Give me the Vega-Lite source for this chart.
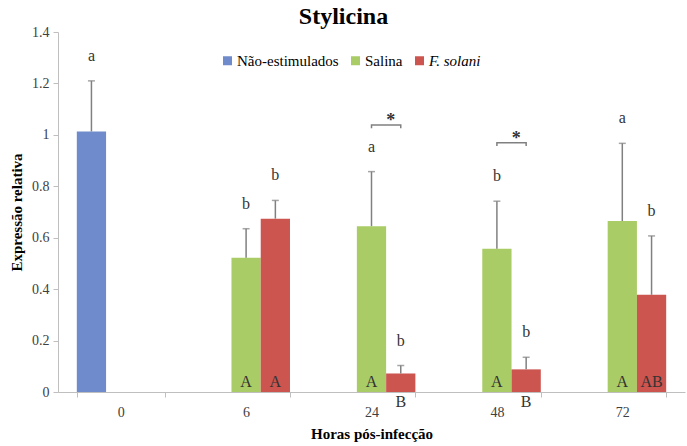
{
  "$schema": "https://vega.github.io/schema/vega-lite/v6.json",
  "width": 627,
  "height": 360,
  "autosize": {"type": "none"},
  "padding": {"left": 58, "top": 32, "right": 2, "bottom": 54},
  "background": "white",
  "config": {"view": {"stroke": null}, "font": "Liberation Serif, serif"},
  "title": {"text": "Stylicina", "fontSize": 24, "fontWeight": "bold", "font": "Liberation Serif, serif", "anchor": "middle", "dx": -28, "offset": -4, "color": "#000000"},
  "datasets": {
    "barras": [
      {"hora": "0", "serie": "Não-estimulados", "media": 1.013, "sup": 1.21, "letra_sup": "a", "letra_inf": ""},
      {"hora": "6", "serie": "Salina", "media": 0.522, "sup": 0.635, "letra_sup": "b", "letra_inf": "A"},
      {"hora": "6", "serie": "F. solani", "media": 0.674, "sup": 0.745, "letra_sup": "b", "letra_inf": "A"},
      {"hora": "24", "serie": "Salina", "media": 0.645, "sup": 0.857, "letra_sup": "a", "letra_inf": "A"},
      {"hora": "24", "serie": "F. solani", "media": 0.072, "sup": 0.103, "letra_sup": "b", "letra_inf": "B"},
      {"hora": "48", "serie": "Salina", "media": 0.557, "sup": 0.742, "letra_sup": "b", "letra_inf": "A"},
      {"hora": "48", "serie": "F. solani", "media": 0.088, "sup": 0.135, "letra_sup": "b", "letra_inf": "B"},
      {"hora": "72", "serie": "Salina", "media": 0.665, "sup": 0.967, "letra_sup": "a", "letra_inf": "A"},
      {"hora": "72", "serie": "F. solani", "media": 0.378, "sup": 0.607, "letra_sup": "b", "letra_inf": "AB"}
    ],
    "sig": [
      {"hora": "24", "serie": "Salina", "y": 1.026, "ordem": 1},
      {"hora": "24", "serie": "Salina", "y": 1.038, "ordem": 2},
      {"hora": "24", "serie": "F. solani", "y": 1.038, "ordem": 3},
      {"hora": "24", "serie": "F. solani", "y": 1.026, "ordem": 4},
      {"hora": "48", "serie": "Salina", "y": 0.957, "ordem": 1},
      {"hora": "48", "serie": "Salina", "y": 0.969, "ordem": 2},
      {"hora": "48", "serie": "F. solani", "y": 0.969, "ordem": 3},
      {"hora": "48", "serie": "F. solani", "y": 0.957, "ordem": 4}
    ]
  },
  "encoding": {
    "x": {
      "field": "hora", "type": "ordinal", "sort": ["0", "6", "24", "48", "72"],
      "scale": {"domain": ["0", "6", "24", "48", "72"], "paddingInner": 0.3, "paddingOuter": 0.15},
      "axis": {"title": "Horas pós-infecção", "titleFont": "Liberation Serif, serif", "titleFontSize": 15, "titleFontWeight": "bold", "titleColor": "#000000", "titlePadding": 7,
               "labelAngle": 0, "labelFont": "Liberation Serif, serif", "labelFontSize": 14, "labelColor": "#404040", "labelPadding": 8,
               "tickBand": "extent", "domainColor": "#BFBFBF", "tickColor": "#BFBFBF", "tickSize": 5, "grid": false}
    },
    "xOffset": {
      "field": "serie", "type": "nominal",
      "scale": {"domain": ["Não-estimulados", "Salina", "F. solani"], "paddingInner": 0, "paddingOuter": 0}
    }
  },
  "layer": [
    {
      "data": {"name": "barras"},
      "mark": {"type": "bar"},
      "encoding": {
        "y": {"field": "media", "type": "quantitative",
              "scale": {"domain": [0, 1.4], "nice": false},
              "axis": {"title": "Expressão relativa", "titleFont": "Liberation Serif, serif", "titleFontSize": 15, "titleFontWeight": "bold", "titleColor": "#000000", "titlePadding": 7,
                       "values": [0, 0.2, 0.4, 0.6, 0.8, 1, 1.2, 1.4], "format": "~g",
                       "labelFont": "Liberation Serif, serif", "labelFontSize": 14, "labelColor": "#404040", "labelPadding": 4,
                       "domainColor": "#BFBFBF", "tickColor": "#BFBFBF", "tickSize": 5, "grid": false}},
        "color": {"field": "serie", "type": "nominal",
                  "scale": {"domain": ["Não-estimulados", "Salina", "F. solani"], "range": ["#708BCB", "#AACC66", "#CC5550"]},
                  "legend": {"orient": "none", "legendX": 162, "legendY": 21, "direction": "horizontal", "title": null,
                             "symbolType": "square", "symbolSize": 81, "symbolStrokeWidth": 0,
                             "labelFont": "Liberation Serif, serif", "labelFontSize": 15, "labelColor": "#000000", "columnPadding": 9, "labelOffset": 2,
                             "encode": {"labels": {"update": {"fontStyle": {"signal": "datum.label === 'F. solani' ? 'italic' : 'normal'"}}}}}}
      }
    },
    {
      "data": {"name": "barras"},
      "mark": {"type": "rule", "color": "#808080", "strokeWidth": 1.5},
      "encoding": {
        "y": {"field": "media", "type": "quantitative"},
        "y2": {"field": "sup"}
      }
    },
    {
      "data": {"name": "barras"},
      "mark": {"type": "tick", "orient": "horizontal", "color": "#808080", "size": 7, "thickness": 1.5},
      "encoding": {
        "y": {"field": "sup", "type": "quantitative"}
      }
    },
    {
      "data": {"name": "barras"},
      "mark": {"type": "text", "font": "Liberation Serif, serif", "fontSize": 16, "color": "#333333", "baseline": "middle", "dy": -25},
      "encoding": {
        "y": {"field": "sup", "type": "quantitative"},
        "text": {"field": "letra_sup"}
      }
    },
    {
      "data": {"name": "barras"},
      "transform": [{"filter": "datum.letra_inf !== '' && datum.media >= 0.15"}],
      "mark": {"type": "text", "font": "Liberation Serif, serif", "fontSize": 16, "color": "#333333", "baseline": "middle", "dy": -10},
      "encoding": {
        "y": {"datum": 0, "type": "quantitative"},
        "text": {"field": "letra_inf"}
      }
    },
    {
      "data": {"name": "barras"},
      "transform": [{"filter": "datum.letra_inf !== '' && datum.media < 0.15"}],
      "mark": {"type": "text", "font": "Liberation Serif, serif", "fontSize": 16, "color": "#333333", "baseline": "middle", "dy": 10},
      "encoding": {
        "y": {"datum": 0, "type": "quantitative"},
        "text": {"field": "letra_inf"}
      }
    },
    {
      "data": {"name": "sig"},
      "mark": {"type": "line", "color": "#808080", "strokeWidth": 1.5},
      "encoding": {
        "y": {"field": "y", "type": "quantitative"},
        "detail": {"field": "hora"},
        "order": {"field": "ordem"}
      }
    },
    {
      "data": {"name": "sig"},
      "transform": [{"filter": "datum.ordem === 3"}],
      "mark": {"type": "text", "font": "Liberation Serif, serif", "fontSize": 18, "fontWeight": "bold", "color": "#333333", "baseline": "middle", "dy": -4, "dx": -10},
      "encoding": {
        "y": {"field": "y", "type": "quantitative"},
        "text": {"value": "*"}
      }
    }
  ]
}
